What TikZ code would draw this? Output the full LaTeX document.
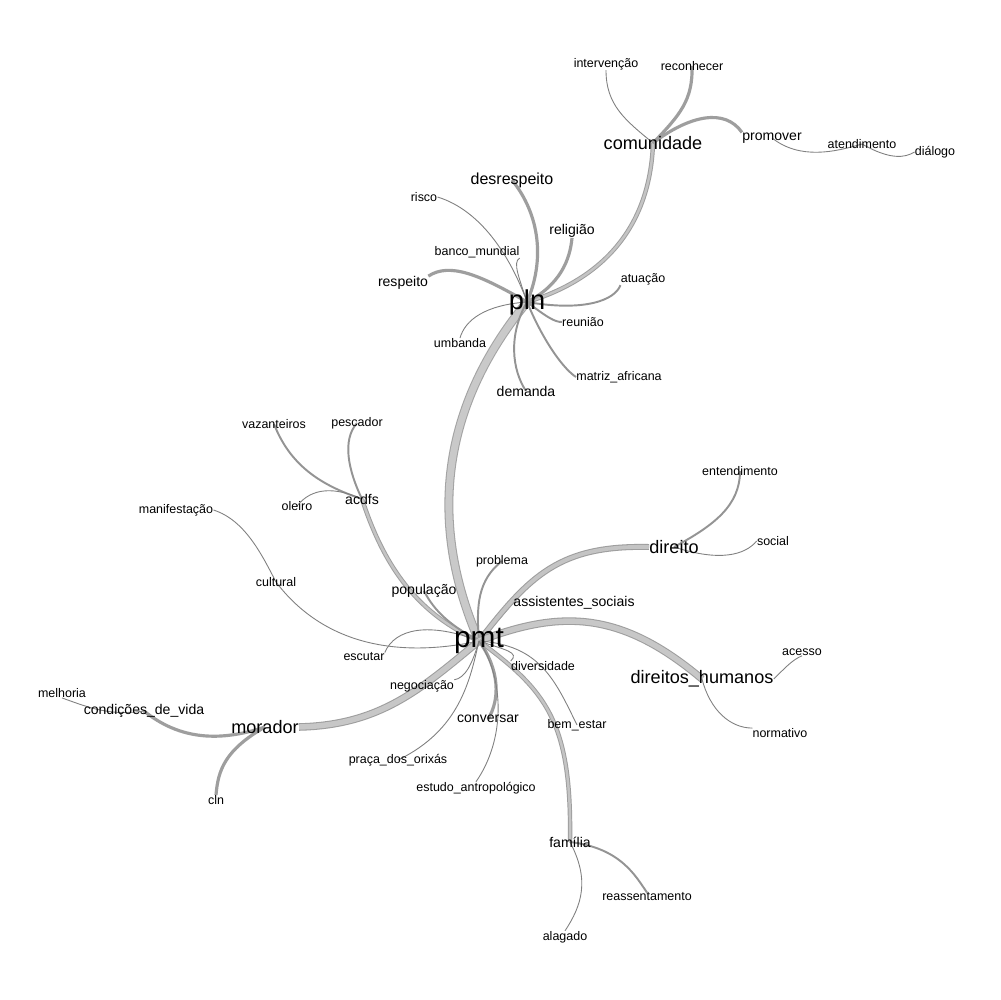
\documentclass[tikz,border=0pt]{standalone}
\usepackage{fontspec}
\setmainfont{Liberation Sans}
\usetikzlibrary{backgrounds}

\begin{document}
\begin{tikzpicture}[x=0.02cm, y=-0.02cm,
		w1/.style={inner sep=0pt, font=\fontsize{7.1}{8}\selectfont},
		w2/.style={inner sep=0pt, font=\fontsize{8}{9}\selectfont},
		w3/.style={inner sep=0pt, font=\fontsize{9.1}{10}\selectfont},
		w4/.style={inner sep=0pt, font=\fontsize{10.3}{11}\selectfont},
		w5/.style={inner sep=0pt, font=\fontsize{15.5}{17}\selectfont},
		w6/.style={inner sep=0pt, font=\fontsize{17}{19}\selectfont},
		ew1/.style={draw=black!50, line width=0.5pt},
		ew2/.style={draw=black!42, line width=1.1pt},
		ew3/.style={draw=black!38, line width=1.8pt},
		ew4/.style={draw=black!38, line width=0.55pt, double=black!23, double distance=1.4pt},
		ew5/.style={draw=black!38, line width=0.6pt, double=black!23, double distance=2.2pt},
		ew6/.style={draw=black!38, line width=0.6pt, double=black!22, double distance=3.1pt},
		ew7/.style={draw=black!36, line width=0.6pt, double=black!21, double distance=3.9pt}]
	\useasboundingbox (0,0) rectangle (1000,1000);
	
	% main words
	\node[w6] (pmt) at (479,641) {pmt};
	\node[w5] (pln) at (527,302) {pln};
	
	% pln side
	\node[w4] (comunidade) at (653,143) {comunidade};
	\node[w1] (intervencao) at (606,64) {intervenção};
	\node[w1] (reconhecer) at (692,66) {reconhecer};
	\node[w2] (promover) at (772,138) {promover};
	\node[w1] (atendimento) at (862,144) {atendimento};
	\node[w1] (dialogo) at (935,152) {diálogo};
	\node[w3] (desrespeito) at (512,180) {desrespeito};
	\node[w1] (risco) at (424,197) {risco};
	\node[w2] (religiao) at (572,231) {religião};
	\node[w1] (banco) at (477,252) {banco\_mundial};
	\node[w2] (respeito) at (403,283) {respeito};
	\node[w1] (atuacao) at (643,279) {atuação};
	\node[w1] (reuniao) at (583,322) {reunião};
	\node[w1] (umbanda) at (460,343) {umbanda};
	\node[w1] (matriz) at (619,377) {matriz\_africana};
	\node[w2] (demanda) at (526,391) {demanda};
	
	% pmt side
	\node[w2] (acdfs) at (362,499) {acdfs};
	\node[w1] (vazanteiros) at (274,424) {vazanteiros};
	\node[w1] (pescador) at (357,423) {pescador};
	\node[w1] (oleiro) at (297,506) {oleiro};
	\node[w1] (manif) at (176,510) {manifestação};
	\node[w1] (cultural) at (276,582) {cultural};
	\node[w2] (populacao) at (424,591) {população};
	\node[w1] (problema) at (502,561) {problema};
	\node[w2] (assist) at (574,603) {assistentes\_sociais};
	\node[w4] (direito) at (674,547) {direito};
	\node[w1] (entend) at (740,471) {entendimento};
	\node[w1] (social) at (773,541) {social};
	\node[w4] (dh) at (702,679) {direitos\_humanos};
	\node[w1] (acesso) at (802,652) {acesso};
	\node[w1] (normativo) at (780,733) {normativo};
	\node[w1] (diversidade) at (543,666) {diversidade};
	\node[w1] (bemestar) at (577,725) {bem\_estar};
	\node[w1] (escutar) at (364,657) {escutar};
	\node[w1] (negociacao) at (422,686) {negociação};
	\node[w2] (conversar) at (488,719) {conversar};
	\node[w1] (praca) at (398,760) {praça\_dos\_orixás};
	\node[w1] (estudo) at (476,788) {estudo\_antropológico};
	\node[w1] (melhoria) at (62,693) {melhoria};
	\node[w2] (condicoes) at (144,711) {condições\_de\_vida};
	\node[w4] (morador) at (265,727) {morador};
	\node[w1] (cln) at (216,800) {cln};
	\node[w2] (familia) at (570,842) {família};
	\node[w1] (reass) at (647,897) {reassentamento};
	\node[w1] (alagado) at (565,937) {alagado};
	
	\begin{pgfonlayer}{background}
		\fill[white] (0,0) rectangle (1000,1000);
		% pln branch
		\draw[ew7] (pmt.center) .. controls (435,540) and (430,420) .. (pln.center);
		\draw[ew4] (pln.center) .. controls (600,280) and (650,230) .. (comunidade.center);
		\draw[ew1] (comunidade.center) .. controls (625,120) and (606,105) .. (intervencao.south);
		\draw[ew3] (comunidade.center) .. controls (680,115) and (693,100) .. (reconhecer.center);
		\draw[ew3] (comunidade.center) .. controls (690,115) and (725,108) .. (promover.north west);
		\draw[ew1] (promover.center) .. controls (800,160) and (835,152) .. (atendimento.center);
		\draw[ew1] (atendimento.center) .. controls (890,160) and (905,158) .. (dialogo.west);
		\draw[ew3] (pln.center) .. controls (545,260) and (540,215) .. (desrespeito.center);
		\draw[ew1] (pln.center) .. controls (510,255) and (480,210) .. (risco.east);
		\draw[ew3] (pln.center) .. controls (560,285) and (570,260) .. (religiao.south);
		\draw[ew1] (pln.center) .. controls (520,280) and (512,262) .. (banco.south east);
		\draw[ew3] (pln.center) .. controls (480,275) and (450,262) .. (respeito.north east);
		\draw[ew2] (pln.center) .. controls (585,312) and (615,300) .. (atuacao.south west);
		\draw[ew2] (pln.center) .. controls (548,318) and (555,322) .. (reuniao.west);
		\draw[ew1] (pln.center) .. controls (485,305) and (465,320) .. (umbanda.north);
		\draw[ew2] (pln.center) .. controls (545,345) and (565,370) .. (matriz.west);
		\draw[ew2] (pln.center) .. controls (508,335) and (512,370) .. (demanda.center);
		
		% pmt branches
		\draw[ew4] (pmt.center) .. controls (420,615) and (385,570) .. (acdfs.center);
		\draw[ew2] (acdfs.center) .. controls (320,485) and (290,465) .. (vazanteiros.center);
		\draw[ew2] (acdfs.center) .. controls (348,470) and (342,440) .. (pescador.center);
		\draw[ew1] (acdfs.center) .. controls (335,487) and (312,487) .. (oleiro.center);
		\draw[ew1] (pmt.center) .. controls (390,660) and (320,640) .. (cultural.center);
		\draw[ew1] (cultural.center) .. controls (262,555) and (245,520) .. (manif.east);
		\draw[ew1] (pmt.center) .. controls (430,622) and (395,628) .. (escutar.north east);
		\draw[ew2] (pmt.center) .. controls (450,625) and (435,612) .. (populacao.center);
		\draw[ew2] (pmt.center) .. controls (476,605) and (478,580) .. (problema.center);
		\draw[ew1] (pmt.center) .. controls (495,625) and (505,612) .. (assist.west);
		\draw[ew5] (pmt.center) .. controls (530,575) and (560,545) .. (direito.west);
		\draw[ew2] (direito.center) .. controls (715,525) and (740,505) .. (entend.center);
		\draw[ew1] (direito.center) .. controls (720,562) and (745,555) .. (social.west);
		\draw[ew6] (pmt.center) .. controls (560,610) and (620,610) .. (dh.center);
		\draw[ew1] (dh.east) .. controls (785,668) and (792,660) .. (acesso.south);
		\draw[ew1] (dh.center) .. controls (710,710) and (730,728) .. (normativo.north west);
		\draw[ew1] (pmt.center) .. controls (505,650) and (520,652) .. (diversidade.north west);
		\draw[ew1] (pmt.center) .. controls (540,645) and (555,680) .. (bemestar.center);
		\draw[ew4] (pmt.center) .. controls (545,690) and (572,720) .. (familia.center);
		\draw[ew2] (familia.center) .. controls (620,848) and (635,875) .. (reass.north);
		\draw[ew1] (familia.center) .. controls (590,880) and (582,905) .. (alagado.north);
		\draw[ew6] (pmt.center) .. controls (420,690) and (380,725) .. (morador.east);
		\draw[ew3] (morador.center) .. controls (220,742) and (180,740) .. (condicoes.center);
		\draw[ew1] (condicoes.center) .. controls (110,716) and (90,708) .. (melhoria.south);
		\draw[ew3] (morador.center) .. controls (225,750) and (218,770) .. (cln.north);
		\draw[ew1] (pmt.center) .. controls (472,665) and (465,678) .. (negociacao.north east);
		\draw[ew3] (pmt.center) .. controls (500,670) and (500,700) .. (conversar.center);
		\draw[ew1] (pmt.center) .. controls (470,680) and (460,730) .. (praca.center);
		\draw[ew1] (pmt.center) .. controls (505,680) and (505,740) .. (estudo.north);
	\end{pgfonlayer}
\end{tikzpicture}
\end{document}
